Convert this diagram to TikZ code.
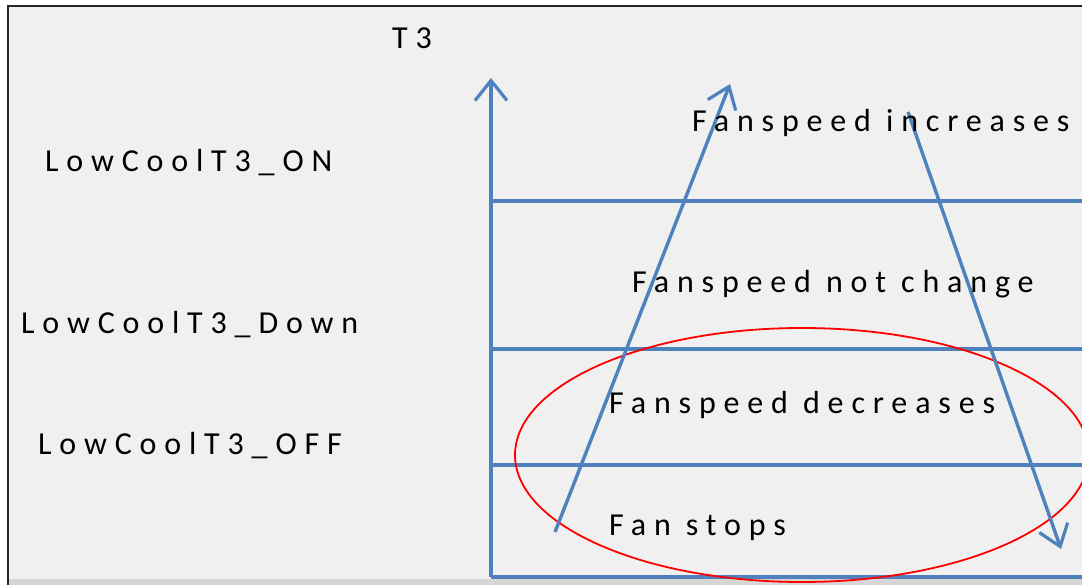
\documentclass[tikz,border=0pt]{standalone}
\usepackage{fontspec}
\setmainfont{Carlito}[LetterSpace=24.5]
\usetikzlibrary{arrows.meta}
\definecolor{axblue}{HTML}{4F81BD}
\definecolor{bg}{HTML}{F0F0F0}
\definecolor{strip}{HTML}{D6D6D6}
\tikzset{
  axisline/.style={draw=axblue, line width=3.4pt},
  flowarrow/.style={draw=axblue, line width=3.4pt, -{Straight Barb[length=20pt,width=30pt,line width=3.2pt]}},
  lbl/.style={anchor=base west, inner sep=0pt, font=\fontsize{32}{36}\selectfont, text=black},
}
\begin{document}
\begin{tikzpicture}[x=1pt,y=-1pt]
\useasboundingbox (0,0) rectangle (1082,585);
\fill[white] (0,0) rectangle (1082,585);
\fill[bg] (8,6) rectangle (1082,585);
\fill[strip] (8,579) rectangle (1082,585);
\draw[line width=2.4pt, black!85] (8,585) -- (8,6) -- (1082,6);
% axis
\coordinate (o) at (491,577);
\coordinate (top) at (491,78);
\coordinate (l1a) at (491,201); \coordinate (l1b) at (1082,201);
\coordinate (l2a) at (491,349); \coordinate (l2b) at (1082,349);
\coordinate (l3a) at (491,465); \coordinate (l3b) at (1082,465);
\coordinate (l4b) at (1082,577);
\draw[axisline, -{Straight Barb[length=20pt,width=32pt,line width=3.2pt]}] (o) -- (top);
\draw[axisline] (l1a) -- (l1b);
\draw[axisline] (l2a) -- (l2b);
\draw[axisline] (l3a) -- (l3b);
\draw[axisline] (o) -- (l4b);
% ellipse
\draw[red, line width=1.8pt] (802,455) ellipse [x radius=287, y radius=127];
% arrows
\coordinate (upS) at (555,532);
\coordinate (upE) at (730,84);
\coordinate (dnS) at (908,112);
\coordinate (dnE) at (1061,549);
\draw[flowarrow] (upS) -- (upE);
\draw[flowarrow] (dnS) -- (dnE);
% labels
\node[lbl] (t3) at (392,49) {T3};
\node[lbl] (on) at (45,172) {LowCoolT3\_ON};
\node[lbl] (down) at (21,334) {LowCoolT3\_Down};
\node[lbl] (off) at (38,454) {LowCoolT3\_OFF};
\node[lbl] (inc) at (692,132) {Fanspeed increases};
\node[lbl] (nc) at (632,293) {Fanspeed not change};
\node[lbl] (dec) at (609,413) {Fanspeed decreases};
\node[lbl] (stop) at (609,535) {Fan stops};
\end{tikzpicture}
\end{document}
